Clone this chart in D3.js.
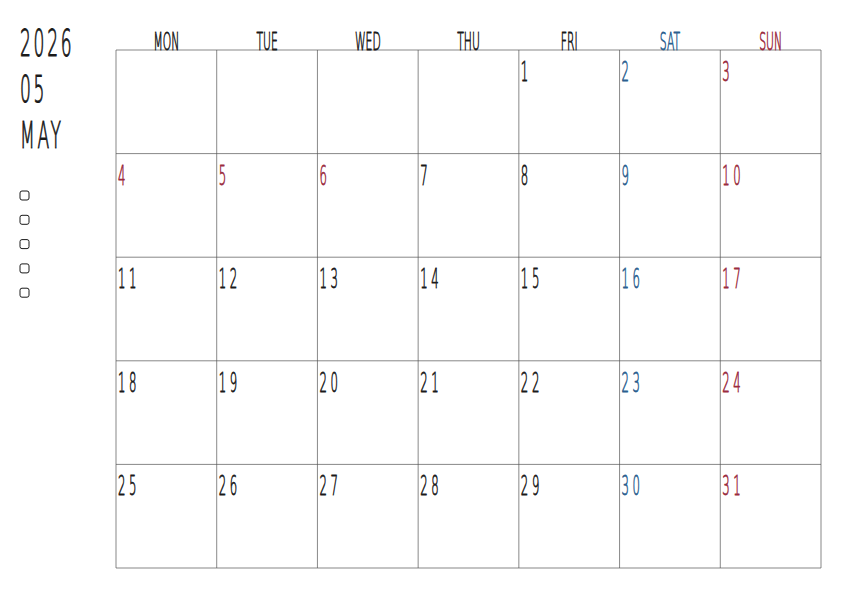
<!DOCTYPE html>
<html><head><meta charset="utf-8">
<script src="https://cdn.jsdelivr.net/npm/d3@7"></script>
<style>body{margin:0;background:#fff} text{paint-order:stroke}</style></head>
<body><svg id="c" width="843" height="596"></svg>
<script>
const year = "2026", monthNum = "05", monthName = "MAY";
const weekdays = ["MON","TUE","WED","THU","FRI","SAT","SUN"];
const firstOffset = 4; // May 1 2026 = Friday
const daysInMonth = 31;
const holidays = [3,4,5,6];
const checkboxes = [0,1,2,3,4];

const svg = d3.select("#c");
const font = "'DejaVu Sans'";
const red = "#9b2c3e", blue = "#2b5f8f", ink = "#1a1a1a";
const x = d3.scaleLinear().domain([0,7]).range([116,821]);
const y = d3.scaleLinear().domain([0,5]).range([50,568]);
const sx = 0.45;

for (let i=0;i<=7;i++) svg.append("line").attr("x1",x(i)).attr("x2",x(i)).attr("y1",y(0)).attr("y2",y(5)).attr("stroke","#555").attr("stroke-width",0.7);
for (let j=0;j<=5;j++) svg.append("line").attr("x1",x(0)).attr("x2",x(7)).attr("y1",y(j)).attr("y2",y(j)).attr("stroke","#555").attr("stroke-width",0.7);

const col = (d,i)=>i===5?blue:i===6?red:ink;
svg.selectAll(".wd").data(weekdays).join("text")
  .attr("transform",(d,i)=>`translate(${x(i+0.5)},50) scale(${sx},1)`).attr("text-anchor","middle")
  .attr("font-family",font).attr("font-weight",300).attr("font-size",24)
  .attr("fill",col).attr("stroke",col).attr("stroke-width",0.8).text(d=>d);

const days = d3.range(1,daysInMonth+1);
const dcol = d=>{const k=(d-1+firstOffset)%7;return (k===6||holidays.includes(d))?red:k===5?blue:ink;};
svg.selectAll(".day").data(days).join("text")
  .attr("transform",d=>{const k=d-1+firstOffset;return `translate(${x(k%7)+2},${y(Math.floor(k/7))+31}) scale(${sx},1)`;})
  .attr("font-family",font).attr("font-weight",300).attr("font-size",26).attr("letter-spacing",8)
  .attr("fill",dcol).attr("stroke",dcol).attr("stroke-width",0.8)
  .text(d=>d);

[year,monthNum,monthName].forEach((t,i)=>svg.append("text")
  .attr("transform",`translate(20,${56+i*46}) scale(${sx},1)`)
  .attr("font-family",font).attr("font-weight",300).attr("font-size",38).attr("letter-spacing",6)
  .attr("fill",ink).attr("stroke",ink).attr("stroke-width",1).text(t));

svg.selectAll(".cb").data(checkboxes).join("rect")
  .attr("x",20).attr("y",d=>191+d*24.3).attr("width",9).attr("height",9).attr("rx",2)
  .attr("fill","none").attr("stroke",ink).attr("stroke-width",1);
</script></body></html>
